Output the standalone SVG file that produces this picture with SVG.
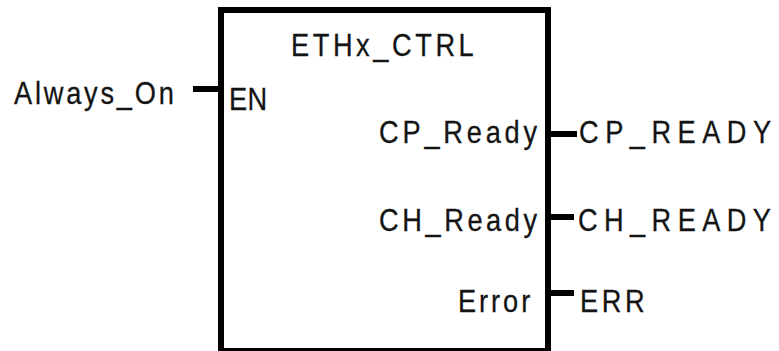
<svg xmlns="http://www.w3.org/2000/svg" width="779" height="351" viewBox="0 0 779 351">
<style>
.t{font-family:"Liberation Sans",Arial,sans-serif;font-size:32px;fill:#141414;stroke:#141414;stroke-width:0.3;}
.w{stroke:#000;stroke-width:6;fill:none;}
</style>
<rect width="779" height="351" fill="#fff"/>
<g id="block">
<rect x="221" y="10" width="327" height="341" fill="#fff" stroke="#000" stroke-width="6"/>
<text class="t" transform="translate(291,56) scale(0.85,1)" textLength="215" lengthAdjust="spacing">ETHx_CTRL</text>
<text class="t" transform="translate(229,110) scale(0.85,1)" textLength="45" lengthAdjust="spacing">EN</text>
<text class="t" transform="translate(379,143) scale(0.85,1)" textLength="186" lengthAdjust="spacing">CP_Ready</text>
<text class="t" transform="translate(379,231) scale(0.85,1)" textLength="186" lengthAdjust="spacing">CH_Ready</text>
<text class="t" transform="translate(458,312) scale(0.85,1)" textLength="85" lengthAdjust="spacing">Error</text>
</g>
<g id="connectors">
<line class="w" x1="193" y1="89" x2="221" y2="89"/>
<line class="w" x1="548" y1="134" x2="577" y2="134"/>
<line class="w" x1="548" y1="217" x2="574" y2="217" stroke-width="5"/>
<line class="w" x1="548" y1="293" x2="574" y2="293"/>
</g>
<g id="always_on">
<text class="t" transform="translate(14,104) scale(0.85,1)" textLength="188" lengthAdjust="spacing">Always_On</text>
</g>
<g id="cp_ready_var">
<text class="t" transform="translate(579,143) scale(0.85,1)" textLength="226" lengthAdjust="spacing">CP_READY</text>
</g>
<g id="ch_ready_var">
<text class="t" transform="translate(578,231) scale(0.85,1)" textLength="227" lengthAdjust="spacing">CH_READY</text>
</g>
<g id="err_var">
<text class="t" transform="translate(580,312) scale(0.85,1)" textLength="76" lengthAdjust="spacing">ERR</text>
</g>
</svg>
